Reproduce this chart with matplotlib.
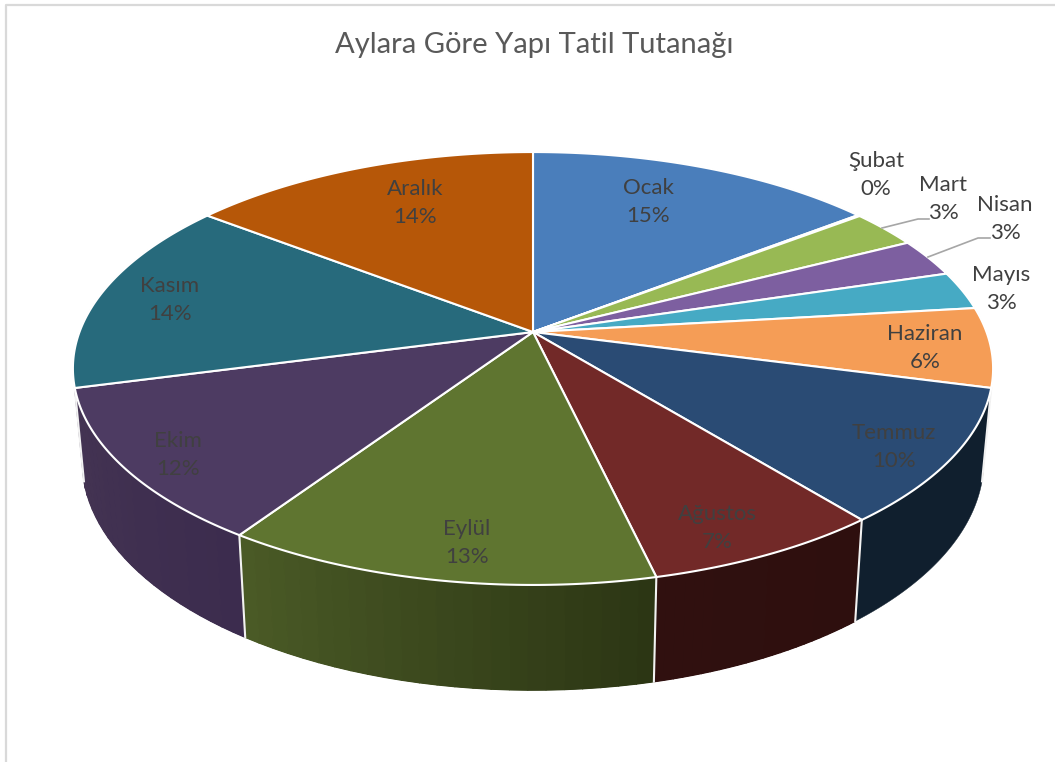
import numpy as np
import matplotlib
matplotlib.use('Agg')
import matplotlib.pyplot as plt
from matplotlib.colors import to_rgb

months = ['Ocak', 'Şubat', 'Mart', 'Nisan', 'Mayıs', 'Haziran', 'Temmuz', 'Ağustos', 'Eylül', 'Ekim', 'Kasım', 'Aralık']
shares = [14.5, 0.1, 2.85, 2.85, 2.85, 5.95, 10.05, 7.2, 13.05, 11.5, 14.55, 14.55]
percent_labels = ['15%', '0%', '3%', '3%', '3%', '6%', '10%', '7%', '13%', '12%', '14%', '14%']

top_colors = ['#4a7ebb', '#be4b48', '#98b954', '#7d5fa0', '#46aac4', '#f59d56', '#2a4b74', '#722928', '#5f7530', '#4d3b62', '#276a7c', '#b65708']
side_left = ['#2a4868', '#6a2a28', '#55692f', '#483a5c', '#27606f', '#8a5a30', '#101f2e', '#30100f', '#4a5a26', '#443453', '#16404c', '#653005']
side_right = ['#2a4868', '#6a2a28', '#55692f', '#483a5c', '#27606f', '#8a5a30', '#101f2e', '#2e0f0e', '#2c3614', '#3c2c4e', '#16404c', '#653005']

label_pos = [(648, 202), (876, 175), (943, 199), (1005, 219), (1001, 289), (925, 348),
             (894, 447), (717, 528), (467, 543), (178, 455), (170, 300), (415, 203)]

# pie geometry in pixels
cx, cy = 533, 332
rx, ry = 453.5, 210.3
persp = 0.1686
wall_scale_x, wall_scale_y, wall_drop = 0.98, 1.06, 90


def top_point(theta):
    x, y = np.sin(theta), np.cos(theta)
    w = 1 + persp * y
    return cx + rx * x / w, cy - ry * y / w


def bottom_point(theta):
    x, y = top_point(theta)
    return cx + (x - cx) * wall_scale_x, cy + (y - cy) * wall_scale_y + wall_drop


fig = plt.figure(figsize=(10.55, 7.62), dpi=100)
ax = fig.add_axes([0, 0, 1, 1])
ax.set_xlim(0, 1055)
ax.set_ylim(762, 0)
ax.axis('off')
plt.rcParams['font.family'] = ['Lato', 'DejaVu Sans']

# chart frame
ax.plot([5.5, 5.5, 1055], [762, 4.5, 4.5], color='#d9d9d9', lw=1.6)

edges = np.radians(np.cumsum([0] + shares) / sum(shares) * 360)

# side wall: back slices first, a flat piece under small strips for the shading
order = sorted(range(len(months)), key=lambda k: np.cos((edges[k] + edges[k + 1]) / 2), reverse=True)
for i in order:
    a, b = edges[i], edges[i + 1]
    th = np.linspace(a, b, 60)
    tx, ty = top_point(th)
    bx, by = bottom_point(th)
    c1, c2 = np.array(to_rgb(side_left[i])), np.array(to_rgb(side_right[i]))
    ax.fill(np.r_[tx, bx[::-1]], np.r_[ty, by[::-1]], color=(c1 + c2) / 2, lw=0.3, zorder=2)
    if side_left[i] != side_right[i]:
        n = 24
        angles = np.linspace(a, b, n + 1)
        for j in range(n):
            # the left colour sits on the clockwise end of the slice
            col = c2 + (c1 - c2) * j / (n - 1)
            t0, t1 = top_point(angles[j]), top_point(angles[j + 1])
            b0, b1 = bottom_point(angles[j]), bottom_point(angles[j + 1])
            ax.fill([t0[0], t1[0], b1[0], b0[0]], [t0[1], t1[1], b1[1], b0[1]], color=col, lw=1.0, zorder=2)

# white lines between the wall pieces
for e in edges:
    if np.radians(100) < e < np.radians(260):
        t, b = top_point(e), bottom_point(e)
        ax.plot([t[0], b[0]], [t[1], b[1]], color='#f2f2f2', lw=1.5, zorder=3)

# top face
for i in range(len(months)):
    th = np.linspace(edges[i], edges[i + 1], 80)
    xs, ys = top_point(th)
    ax.fill(np.r_[cx, xs], np.r_[cy, ys], facecolor=top_colors[i], edgecolor='white',
            lw=1.5, joinstyle='round', zorder=4)

# leader lines
ax.plot([882, 918, 929], [228, 219, 219], color='#a6a6a6', lw=1.2, zorder=5)
ax.plot([928, 978, 990], [257, 238, 238], color='#a6a6a6', lw=1.2, zorder=5)

for name, pct, pos in zip(months, percent_labels, label_pos):
    ax.text(pos[0], pos[1], name + '\n' + pct, ha='center', va='center', fontsize=16,
            color='#404040', linespacing=1.5, zorder=6)

ax.text(534, 45, 'Aylara Göre Yapı Tatil Tutanağı', ha='center', va='center', fontsize=21,
        color='#595959', zorder=6)

fig.savefig('out.png', dpi=100)
